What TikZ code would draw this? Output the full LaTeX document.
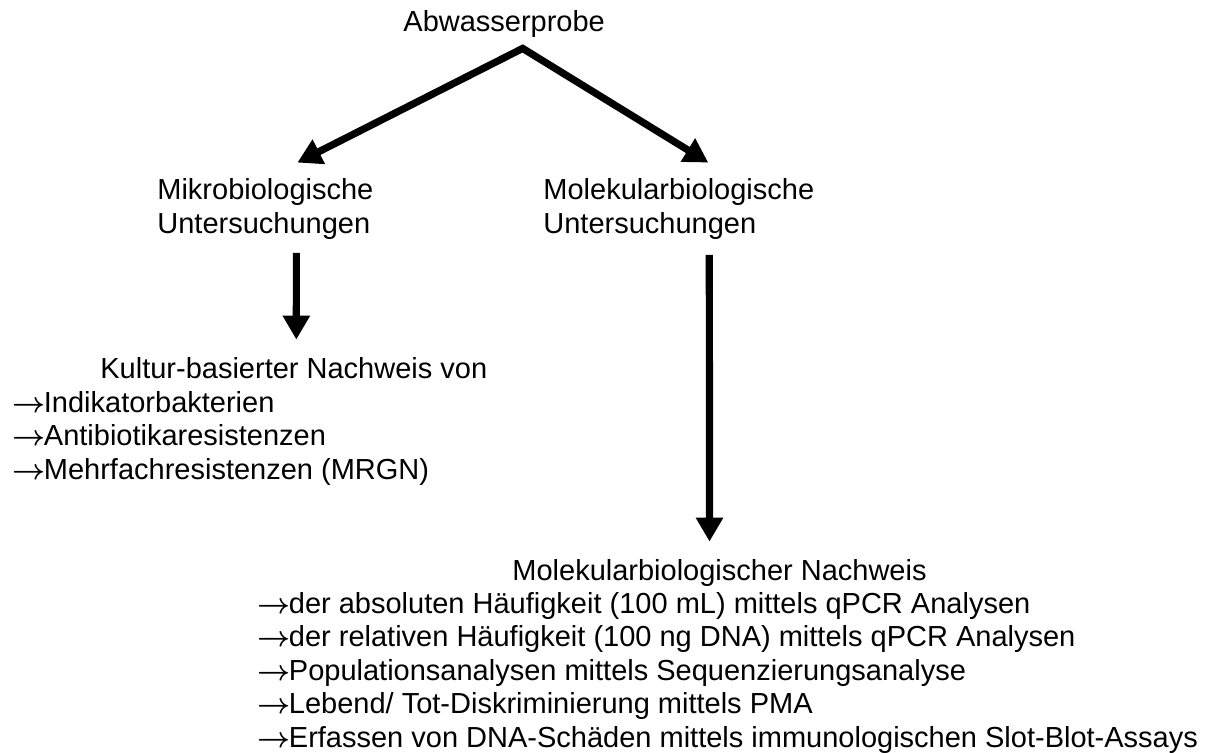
\documentclass[tikz,border=0pt]{standalone}
\usepackage{fontspec}
\setmainfont{Liberation Sans}
\usepackage{tikz}
\usetikzlibrary{arrows.meta,calc,positioning}

\newcommand{\pfeil}{{\boldmath$\rightarrow$}\kern-0.8pt}

\tikzset{
  txt/.style={inner sep=0pt, anchor=base west, align=left,
    font=\fontsize{14.5}{16.75}\selectfont},
  fat/.style={line width=3.6pt, -{Triangle[length=12pt,width=13pt]}},
}

\begin{document}
\begin{tikzpicture}[x=0.5pt, y=-0.5pt]
        \useasboundingbox (0,0) rectangle (1213,753);
        \node[txt] (probe) at (403,32) {Abwasserprobe};
        \node[txt] (mikro) at (157,233.5) {Mikrobiologische\\Untersuchungen};
        \node[txt] (molek) at (543,233.5) {Molekularbiologische\\Untersuchungen};
        \node[txt] (kultur) at (100,378) {Kultur-basierter Nachweis von};
        \node[txt] (kliste) at (12,479) {\pfeil Indikatorbakterien\\\pfeil Antibiotikaresistenzen\\\pfeil Mehrfachresistenzen (MRGN)};
        \node[txt] (nachweis) at (512,580) {Molekularbiologischer Nachweis};
        \node[txt] (mliste) at (257,747) {\pfeil der absoluten Häufigkeit (100 mL) mittels qPCR Analysen\\\pfeil der relativen Häufigkeit (100 ng DNA) mittels qPCR Analysen\\\pfeil Populationsanalysen mittels Sequenzierungsanalyse\\\pfeil Lebend/ Tot-Diskriminierung mittels PMA\\\pfeil Erfassen von DNA-Schäden mittels immunologischen Slot-Blot-Assays};
        \draw[fat, {Triangle[length=12pt,width=13pt]}-{Triangle[length=12pt,width=13pt]}]
          ($(mikro.north)+(32,-16)$) -- ($(probe.south)+(18.5,10)$) -- ($(molek.north)+(29.5,-16)$);
        \draw[fat] ($(mikro.south)+(31,13)$) -- ($(kultur.north)+(2.5,-17)$);
        \draw[fat] ($(molek.south)+(30.5,15)$) -- ($(nachweis.north)+(-10,-17)$);
  \end{tikzpicture}
\end{document}
